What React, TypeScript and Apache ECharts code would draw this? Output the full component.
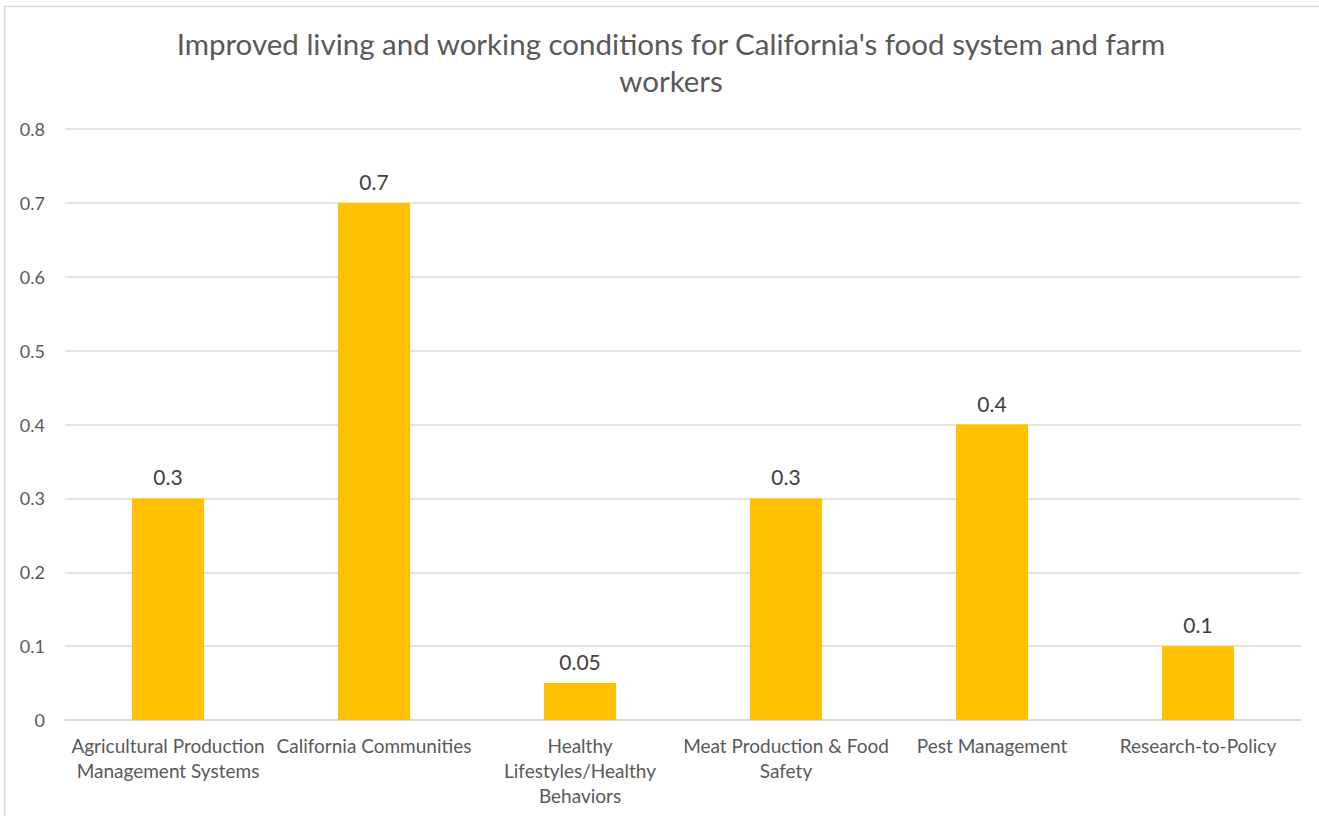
import React, { useEffect, useRef } from "react";
import * as echarts from "echarts";

const titleText = "Improved living and working conditions for California's food system and farm\nworkers";
const categories = [
  "Agricultural Production Management Systems",
  "California Communities",
  "Healthy Lifestyles/Healthy Behaviors",
  "Meat Production & Food Safety",
  "Pest Management",
  "Research-to-Policy",
];
const tickLabels = [
  "Agricultural Production\nManagement Systems",
  "California Communities",
  "Healthy\nLifestyles/Healthy\nBehaviors",
  "Meat Production & Food\nSafety",
  "Pest Management",
  "Research-to-Policy",
];
const values = [0.3, 0.7, 0.05, 0.3, 0.4, 0.1];

const FONT = "Lato, 'Open Sans', sans-serif";

export default function App() {
  const ref = useRef<HTMLDivElement>(null);
  useEffect(() => {
    if (!ref.current) return;
    const chart = echarts.init(ref.current, null, { renderer: "svg" });
    chart.setOption({
      animation: false,
      backgroundColor: "#ffffff",
      title: {
        text: titleText,
        left: 666,
        top: 20,
        textAlign: "center",
        textStyle: {
          fontFamily: FONT,
          fontSize: 29.5,
          fontWeight: "normal",
          color: "#595959",
          lineHeight: 37,
        },
      },
      graphic: [
        {
          type: "rect",
          shape: { x: 4.5, y: 6.5, width: 1400, height: 900 },
          style: { fill: "none", stroke: "#d9d9d9", lineWidth: 1.5 },
          silent: true,
        },
      ],
      grid: { left: 65, right: 18, top: 129, bottom: 96, containLabel: false },
      xAxis: {
        type: "category",
        data: categories,
        axisLine: { lineStyle: { color: "#d9d9d9", width: 1.5 } },
        axisTick: { show: false },
        axisLabel: {
          interval: 0,
          margin: 13,
          fontFamily: FONT,
          fontSize: 19,
          color: "#595959",
          lineHeight: 25,
          formatter: (_v: string, i: number) => tickLabels[i],
        },
      },
      yAxis: {
        type: "value",
        min: 0,
        max: 0.8,
        interval: 0.1,
        axisLine: { show: false },
        axisTick: { show: false },
        splitLine: { lineStyle: { color: "#d9d9d9", width: 1.5 } },
        axisLabel: {
          margin: 20,
          fontFamily: FONT,
          fontSize: 18,
          color: "#595959",
          formatter: (v: number) => (v === 0 ? "0" : String(Math.round(v * 10) / 10)),
        },
      },
      series: [
        {
          type: "bar",
          data: values,
          barWidth: 72,
          itemStyle: { color: "#FFC000" },
          label: {
            show: true,
            position: "top",
            distance: 11,
            fontFamily: FONT,
            fontSize: 21,
            color: "#404040",
          },
        },
      ],
    });
    return () => chart.dispose();
  }, []);
  return (
    <div
      ref={ref}
      style={{ position: "absolute", left: 0, top: 0, width: 1319, height: 816 }}
    />
  );
}
